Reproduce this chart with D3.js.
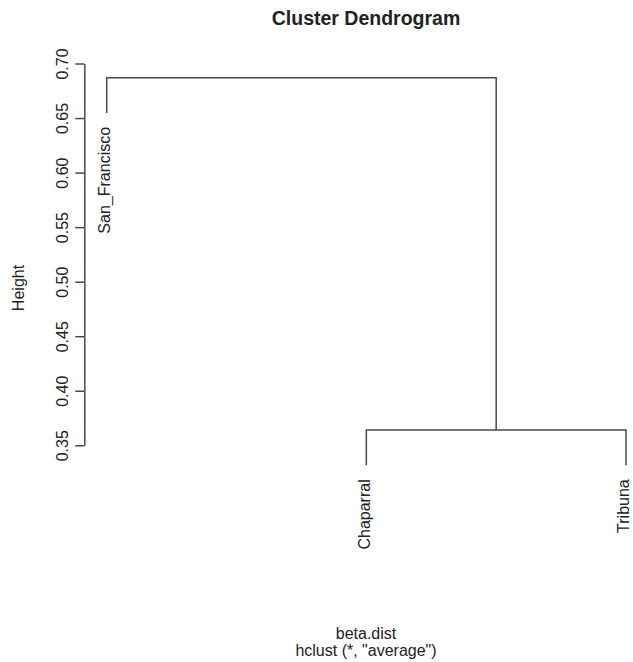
<!DOCTYPE html>
<html>
<head>
<meta charset="utf-8">
<script src="https://cdn.jsdelivr.net/npm/d3@7"></script>
<style>
  body { margin: 0; background: #fff; }
  text { font-family: "Liberation Sans", Arial, sans-serif; fill: #222; }
</style>
</head>
<body>
<div id="chart"></div>
<script>
// hclust style data: negative = leaf index, positive = earlier merge
var labels = ["San_Francisco", "Chaparral", "Tribuna"];
var order = [1, 2, 3];
var mergeLeft = [-2, -1];
var mergeRight = [-3, 1];
var heights = [0.364, 0.687];
var yTicks = [0.35, 0.40, 0.45, 0.50, 0.55, 0.60, 0.65, 0.70];

var svgWidth = 633;
var svgHeight = 662;

var svg = d3.select("#chart")
  .append("svg")
  .attr("width", svgWidth)
  .attr("height", svgHeight);

var yScale = d3.scaleLinear()
  .domain([0.35, 0.70])
  .range([445.3, 63.5]);

var xScale = d3.scaleLinear()
  .domain([1, 3])
  .range([106.7, 626]);

var hang = 0.1 * (d3.max(heights) - d3.min(heights));
var lineColor = "#4a4a4a";

// leaf position along the x axis
var leafPos = {};
order.forEach(function(leaf, i) { leafPos[leaf] = i + 1; });

var mergeX = [];
function nodeX(id) {
  return id < 0 ? leafPos[-id] : mergeX[id - 1];
}

var g = svg.append("g");

for (var i = 0; i < heights.length; i++) {
  var l = mergeLeft[i], r = mergeRight[i];
  var xl = nodeX(l), xr = nodeX(r);
  var h = heights[i];
  var yl = l < 0 ? h - hang : heights[l - 1];
  var yr = r < 0 ? h - hang : heights[r - 1];
  mergeX.push((xl + xr) / 2);

  g.append("path")
    .attr("fill", "none")
    .attr("stroke", lineColor)
    .attr("stroke-width", 1.5)
    .attr("d", "M" + xScale(xl) + "," + yScale(yl) +
               "V" + yScale(h) +
               "H" + xScale(xr) +
               "V" + yScale(yr));

  // leaf labels
  [[l, xl, yl], [r, xr, yr]].forEach(function(c) {
    if (c[0] < 0) {
      g.append("text")
        .attr("transform", "translate(" + xScale(c[1]) + "," + (yScale(c[2]) + 14) + ") rotate(-90)")
        .attr("text-anchor", "end")
        .attr("dy", "0.2em")
        .style("font-size", "16px")
        .text(labels[-c[0] - 1]);
    }
  });
}

// y axis
var yAxis = d3.axisLeft(yScale)
  .tickValues(yTicks)
  .tickFormat(d3.format(".2f"))
  .tickSize(9)
  .tickSizeOuter(0);

var gY = svg.append("g")
  .attr("transform", "translate(84.3,0)")
  .call(yAxis);

gY.select(".domain").attr("stroke", lineColor).attr("stroke-width", 1.5);
gY.selectAll(".tick line").attr("stroke", lineColor).attr("stroke-width", 1.5);
gY.selectAll(".tick text")
  .attr("transform", "rotate(-90)")
  .attr("x", 0)
  .attr("y", -16)
  .attr("dy", 0)
  .attr("text-anchor", "middle")
  .style("font-size", "16px")
  .style("font-family", "Liberation Sans, Arial, sans-serif")
  .attr("fill", "#222");

// titles
svg.append("text")
  .attr("x", 366)
  .attr("y", 25)
  .attr("text-anchor", "middle")
  .style("font-size", "19.5px")
  .style("font-weight", "bold")
  .text("Cluster Dendrogram");

svg.append("text")
  .attr("transform", "translate(24,288) rotate(-90)")
  .attr("text-anchor", "middle")
  .style("font-size", "16px")
  .text("Height");

svg.append("text")
  .attr("x", 366)
  .attr("y", 639)
  .attr("text-anchor", "middle")
  .style("font-size", "16px")
  .text("beta.dist");

svg.append("text")
  .attr("x", 366)
  .attr("y", 656)
  .attr("text-anchor", "middle")
  .style("font-size", "16px")
  .text('hclust (*, "average")');
</script>
</body>
</html>
